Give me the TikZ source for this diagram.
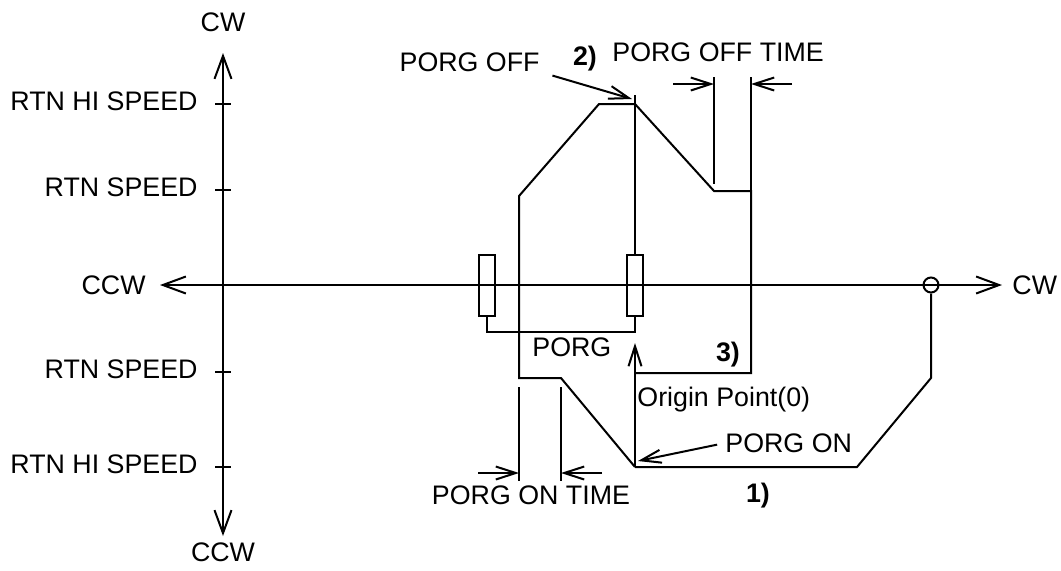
\documentclass[tikz,border=0pt]{standalone}
\usepackage{fontspec}
\setmainfont{Liberation Sans}
\usetikzlibrary{positioning, arrows.meta}
\tikzset{
  lbl/.style={font=\fontsize{13.4}{15}\selectfont, inner sep=0pt,
              text height=9.5pt, text depth=0pt},
  num/.style={lbl, font=\fontsize{13.4}{15}\selectfont\bfseries},
  ln/.style={line width=1pt},
  axar/.style={{Straight Barb[length=11.5pt,width=8.5pt]}-{Straight Barb[length=11.5pt,width=8.5pt]},
               line width=1pt},
  ar/.style={-{Straight Barb[length=10pt,width=6.5pt]}, line width=1pt},
  dog/.style={draw, line width=1pt, minimum width=8pt, minimum height=30.5pt, inner sep=0pt},
  zero/.style={draw, circle, line width=1pt, minimum size=7.5pt, inner sep=0pt},
}

\begin{document}
\begin{tikzpicture}[x=0.5pt, y=-0.5pt]
  \useasboundingbox (0,0) rectangle (1061,570);

  % axes
  \coordinate (vtop) at (223,53);
  \coordinate (vbot) at (223,536);
  \coordinate (hleft) at (160,285);
  \coordinate (hright) at (1002,285);
  \draw[axar] (vbot) -- (vtop);
  \draw[axar] (hleft) -- (hright);
  \node[lbl, above=10.5pt of vtop] (cwup) {CW};
  \node[lbl, below=3pt of vbot] (ccwdn) {CCW};
  \node[lbl, left=7pt of hleft] (ccwl) {CCW};
  \node[lbl, right=5pt of hright] (cwr) {CW};

  % speed ticks
  \foreach \y/\t in {104/RTN HI SPEED, 190/RTN SPEED, 372/RTN SPEED, 467/RTN HI SPEED} {
    \draw[ln] (215,\y) -- (231,\y);
    \node[lbl, anchor=east] (spd\y) at (198,\y-3) {\t};
  }

  % profile
  \coordinate (peak) at (635,104);
  \coordinate (org) at (635,467);
  \coordinate (orgtip) at (635,343);
  \node[zero] (zpt) at (931,285) {};
  \draw[ln] (org) -- (561,378) -- (519,378) -- (519,196) -- (599,104) -- (peak)
            -- (714,191) -- (751,191) -- (751,373) -- (635,373);
  \draw[ln] (org) -- (857,467) -- (931,378) -- (zpt.south);
  \draw[ar] (org) -- (orgtip);

  % PORG signal
  \node[dog] (dogA) at (487,285.5) {};
  \node[dog] (dogB) at (635,285.5) {};
  \draw[ln] (dogA.south) -- ++(0,15) -| (dogB.south);
  \draw[ln] (dogB.north) -- (635,95);

  % PORG OFF TIME
  \draw[ln] (714,77) -- (714,184);
  \draw[ln] (751,77) -- (751,191);
  \draw[ar] (673,84) -- (714,84);
  \draw[ar] (792,84) -- (751,84);

  % PORG ON TIME
  \draw[ln] (519,387) -- (519,481);
  \draw[ln] (561,387) -- (561,481);
  \draw[ar] (478,473) -- (519,473);
  \draw[ar] (602,473) -- (561,473);

  % labels
  \coordinate (offtip) at (632,99);
  \coordinate (ontip) at (638,461);
  \node[lbl, anchor=east] (porgoff) at (540,62) {PORG OFF};
  \node[num] (n2) at (585,56) {2)};
  \node[lbl, anchor=west] (offtime) at (612,52) {PORG OFF TIME};
  \node[lbl, anchor=west] (porg) at (532,347) {PORG};
  \node[num] (n3) at (728,352) {3)};
  \node[lbl, anchor=west] (origin) at (637,397) {Origin Point(0)};
  \node[lbl, anchor=west] (porgon) at (725,443) {PORG ON};
  \node[num] (n1) at (758,493) {1)};
  \node[lbl] (ontime) at (531,495) {PORG ON TIME};
  \draw[ar, shorten <=6.5pt] (porgoff.south east) -- (offtip);
  \draw[ar, shorten <=4pt] (porgon.west) -- (ontip);
\end{tikzpicture}
\end{document}
